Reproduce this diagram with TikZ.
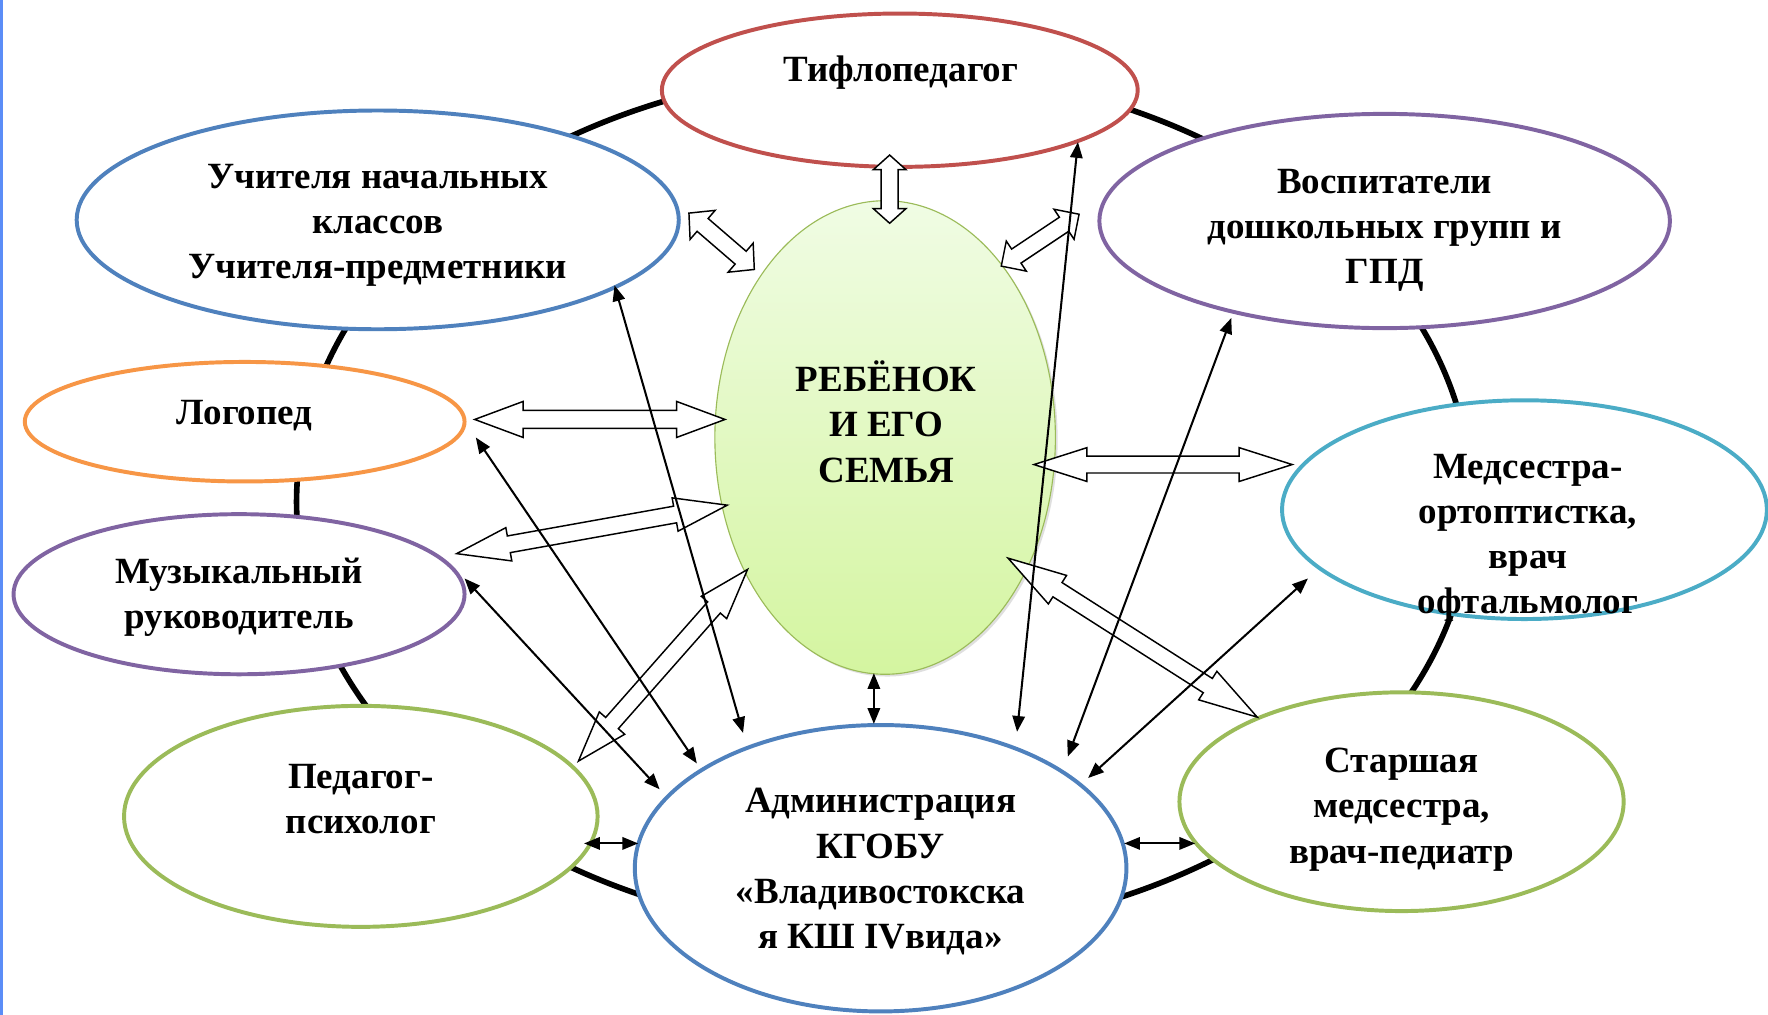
\documentclass[tikz,border=0pt]{standalone}
\usepackage{fontspec}
\setmainfont{Liberation Serif}
\usetikzlibrary{shapes.geometric,calc,shadows,arrows.meta}
\definecolor{cred}{HTML}{C0504D}
\definecolor{cblue}{HTML}{4F81BD}
\definecolor{cpurple}{HTML}{8064A2}
\definecolor{corange}{HTML}{F79646}
\definecolor{cgreen}{HTML}{9BBB59}
\definecolor{cteal}{HTML}{4BACC6}
\definecolor{eggtop}{RGB}{240,252,228}
\definecolor{eggbot}{RGB}{212,245,160}
\definecolor{edgebar}{RGB}{91,141,247}
\newcommand\blockarrow[5]{%
  \path let \p1=(#1), \p2=(#2), \n1={atan2(\y2-\y1,\x2-\x1)}, \n2={veclen(\x2-\x1,\y2-\y1)} in
    \pgfextra{\pgfmathsetmacro\tmpa{\n1}\pgfmathsetmacro\tmpb{\n2}\xdef\BAang{\tmpa}\xdef\BAlen{\tmpb}};
  \begin{scope}[shift={(#1)}, rotate=\BAang]
    \draw[blockarr] (0,0) -- (#5,#4) -- (#5,#3) -- ({\BAlen-#5},#3) -- ({\BAlen-#5},#4) -- (\BAlen,0)
      -- ({\BAlen-#5},-#4) -- ({\BAlen-#5},-#3) -- (#5,-#3) -- (#5,-#4) -- cycle;
  \end{scope}
}
\begin{document}
\begin{tikzpicture}[x=1pt,y=-1pt,
  ell/.style={ellipse, draw, line width=3.5pt, fill=white, inner sep=0pt},
  lbl/.style={font=\fontsize{32.8}{40}\selectfont\bfseries, align=center, inner sep=0pt},
  blockarr/.style={draw=black, line width=1.3pt, fill=white, line join=miter},
  thinarr/.style={line width=1.8pt, {Triangle[length=14pt,width=11pt]}-{Triangle[length=14pt,width=11pt]}},
]
\useasboundingbox (0,0) rectangle (1568,900);
\clip (0,0) rectangle (1568,900);
\fill[white] (0,0) rectangle (1568,900);
\fill[edgebar] (0,0) rectangle (3,900);

% ring behind
\node[ellipse, draw, line width=5pt, minimum width=1042pt, minimum height=766pt, inner sep=0pt] (ring) at (784,445) {};

% ellipses
\node[ell, draw=cred, minimum width=422pt, minimum height=136pt] (tiflo) at (798,80) {};
\node[ell, draw=cblue, minimum width=534pt, minimum height=194pt] (uchit) at (335,195) {};
\node[ell, draw=cpurple, minimum width=506pt, minimum height=190pt] (vosp) at (1228,196) {};
\node[ell, draw=corange, minimum width=390pt, minimum height=106pt] (logo) at (217,374) {};
\node[ell, draw=cpurple, minimum width=400pt, minimum height=142pt] (muz) at (212,527) {};
\node[ell, draw=cgreen, minimum width=420pt, minimum height=196pt] (psy) at (320,724) {};
\node[ell, draw=cblue, minimum width=436pt, minimum height=254pt] (adm) at (781,770) {};
\node[ell, draw=cgreen, minimum width=394pt, minimum height=194pt] (star) at (1243,711) {};
\node[ell, draw=cteal, minimum width=430pt, minimum height=194pt] (med) at (1352,452) {};

% child
\node[ellipse, draw=cgreen, line width=1pt, top color=eggtop, bottom color=eggbot,
  minimum width=302pt, minimum height=420pt, inner sep=0pt,
  drop shadow={shadow xshift=2pt, shadow yshift=-2pt, opacity=0.25}] (egg) at (785,388) {};

% block arrow end points
\coordinate (a1s) at (789,137.5); \coordinate (a1e) at (789,198);
\coordinate (a2s) at (611,189);   \coordinate (a2e) at (669,239);
\coordinate (a3s) at (888,236);   \coordinate (a3e) at (957,190);
\coordinate (a4s) at (421,372);   \coordinate (a4e) at (643,372);
\coordinate (a5s) at (405,491);   \coordinate (a5e) at (645,448);
\coordinate (a6s) at (513,675);   \coordinate (a6e) at (663,505);
\coordinate (a7s) at (917,412);   \coordinate (a7e) at (1146,412);
\coordinate (a8s) at (894,495);   \coordinate (a8e) at (1115,636);

\blockarrow{a1s}{a1e}{7.5}{14.5}{13}
\blockarrow{a2s}{a2e}{7.5}{17}{16}
\blockarrow{a3s}{a3e}{7.5}{16}{16}
\blockarrow{a4s}{a4e}{8}{16}{43}
\blockarrow{a5s}{a5e}{7.5}{15}{47}
\blockarrow{a6s}{a6e}{7.5}{15}{45}
\blockarrow{a7s}{a7e}{7.5}{15}{47}
\blockarrow{a8s}{a8e}{7.5}{15}{52}

% thin arrow end points
\coordinate (t1s) at (545,253); \coordinate (t1e) at (659,650);
\coordinate (t2s) at (422,388); \coordinate (t2e) at (618,677);
\coordinate (t3s) at (412,513); \coordinate (t3e) at (585,700);
\coordinate (t4s) at (518,748); \coordinate (t4e) at (566,748);
\coordinate (t5s) at (956,126); \coordinate (t5e) at (902,649);
\coordinate (t6s) at (1092,282); \coordinate (t6e) at (947,671);
\coordinate (t7s) at (1160,513); \coordinate (t7e) at (965,690);
\coordinate (t8s) at (997,748); \coordinate (t8e) at (1060,748);
\coordinate (t9s) at (775,597); \coordinate (t9e) at (775,642);
\foreach \i in {1,...,9} {\draw[thinarr] (t\i s) -- (t\i e);}

% texts
\node[lbl] (tiflot) at (799,64) {Тифлопедагог};
\node[lbl] (uchitt) at (335,200) {Учителя начальных\\классов\\Учителя-предметники};
\node[lbl] (vospt) at (1228,204) {Воспитатели\\дошкольных групп и\\ГПД};
\node[lbl] (logot) at (217,369) {Логопед};
\node[lbl] (muzt) at (212,530) {Музыкальный\\руководитель};
\node[lbl] (psyt) at (320,709) {Педагог-\\психолог};
\node[lbl] (admt) at (781,773) {Администрация\\КГОБУ\\«Владивостокска\\я КШ IVвида»};
\node[lbl] (start) at (1243,718) {Старшая\\медсестра,\\врач-педиатр};
\node[lbl] (medt) at (1355,477) {Медсестра-\\ортоптистка,\\врач\\офтальмолог};
\node[lbl] (eggt) at (786,374) {РЕБЁНОК\\И ЕГО\\СЕМЬЯ};
\end{tikzpicture}
\end{document}
